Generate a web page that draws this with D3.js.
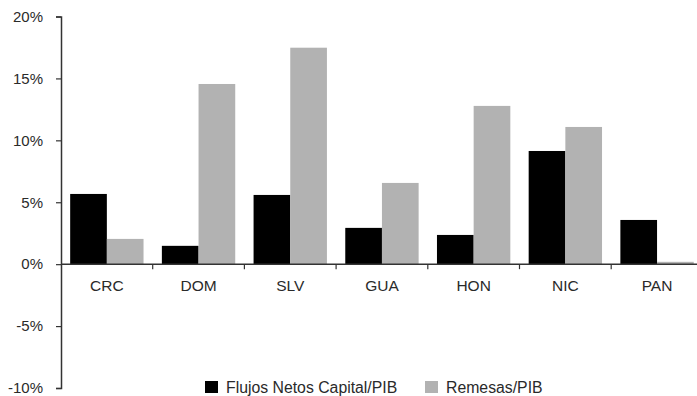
<!DOCTYPE html>
<html>
<head>
<meta charset="utf-8">
<script src="https://cdn.jsdelivr.net/npm/d3@7"></script>
<style>
  html, body { margin: 0; padding: 0; background: #fff; }
  svg { display: block; }
  text { font-family: "Liberation Sans", Arial, sans-serif; fill: #2a2a2a; }
</style>
</head>
<body>
<svg id="chart" width="697" height="396"></svg>
<script>
const categories = ["CRC", "DOM", "SLV", "GUA", "HON", "NIC", "PAN"];
const seriesNames = ["Flujos Netos Capital/PIB", "Remesas/PIB"];
const flujos = [5.67, 1.48, 5.59, 2.93, 2.36, 9.14, 3.57];
const remesas = [2.04, 14.55, 17.48, 6.56, 12.78, 11.08, 0.19];
const yTicks = [-10, -5, 0, 5, 10, 15, 20];
const colors = ["#000000", "#b2b2b2"];

const svg = d3.select("#chart");
const mLeft = 61, mTop = 16.5, mBottom = 388, band = 91.7;
const mRight = mLeft + band * categories.length;

const y = d3.scaleLinear().domain([-10, 20]).range([mBottom, mTop]);
const x = d3.scaleBand().domain(categories).range([mLeft, mRight]).paddingInner(0).paddingOuter(0);
const xs = d3.scaleBand().domain(seriesNames).range([0, x.bandwidth()]).paddingInner(0).paddingOuter(0.25);

const rows = categories.map((c, i) => ({ cat: c, vals: [flujos[i], remesas[i]] }));

// bars
const g = svg.append("g");
rows.forEach(r => {
  r.vals.forEach((v, j) => {
    g.append("rect")
      .attr("x", x(r.cat) + xs(seriesNames[j]))
      .attr("width", xs.bandwidth())
      .attr("y", y(Math.max(0, v)))
      .attr("height", Math.abs(y(v) - y(0)))
      .attr("fill", colors[j]);
  });
});

// y axis
const yAxis = d3.axisLeft(y).tickValues(yTicks).tickFormat(d => d + "%").tickSize(5).tickPadding(13);
const ya = svg.append("g").attr("transform", `translate(${mLeft},0)`).call(yAxis);
ya.select(".domain").attr("stroke", "#333").attr("stroke-width", 1.5);
ya.selectAll(".tick line").attr("stroke", "#333").attr("stroke-width", 1.2);
ya.selectAll(".tick text").attr("font-size", 15).style("font-family", "Liberation Sans, Arial, sans-serif").attr("fill", "#2a2a2a");

// x axis at zero
const xa = svg.append("g").attr("transform", `translate(0,${y(0)})`);
xa.append("line").attr("x1", mLeft).attr("x2", 697).attr("y1", 0).attr("y2", 0)
  .attr("stroke", "#333").attr("stroke-width", 1.5);
categories.forEach((c, i) => {
  if (i > 0) {
    xa.append("line").attr("x1", x(c)).attr("x2", x(c)).attr("y1", 0).attr("y2", 5)
      .attr("stroke", "#333").attr("stroke-width", 1.2);
  }
  xa.append("text").attr("x", x(c) + x.bandwidth() / 2).attr("y", 27)
    .attr("text-anchor", "middle").attr("font-size", 15.5).text(c);
});

// legend
const legendItems = [{ name: seriesNames[0], x: 205 }, { name: seriesNames[1], x: 425 }];
legendItems.forEach((d, j) => {
  const lg = svg.append("g").attr("transform", `translate(${d.x},381)`);
  lg.append("rect").attr("width", 13).attr("height", 12).attr("fill", colors[j]);
  lg.append("text").attr("x", 21).attr("y", 11.5).attr("font-size", 15.8).text(d.name);
});
</script>
</body>
</html>
